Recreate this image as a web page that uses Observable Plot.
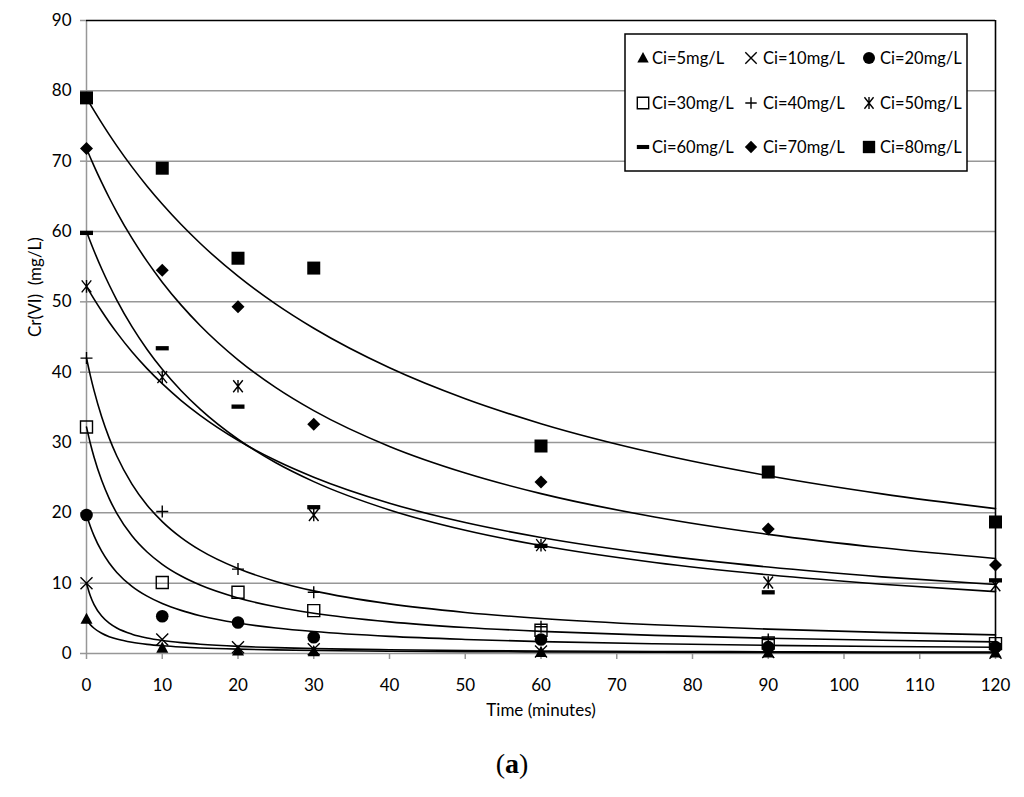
<!DOCTYPE html>
<html><head><meta charset="utf-8">
<script src="https://cdn.jsdelivr.net/npm/d3@7"></script>
<script src="https://cdn.jsdelivr.net/npm/@observablehq/plot@0.6"></script>
<style>
body{margin:0;background:#fff;font-family:Lato,sans-serif;}
#wrap{position:relative;width:1024px;height:797px;overflow:hidden;}
#caption{position:absolute;left:0;top:748px;width:1024px;text-align:center;font-family:"Liberation Serif",serif;font-size:28px;color:#000;}
#legend{position:absolute;left:624px;top:33px;}
</style></head><body>
<div id="wrap"><div id="chart"></div><svg id="legend" width="346" height="142"></svg><div id="caption">(<b>a</b>)</div></div>
<script>
// measured data points
const times = [0, 10, 20, 30, 60, 90, 120];
const c5  = [4.9, 0.8, 0.4, 0.3, 0.2, 0.1, 0.1];
const c10 = [10.0, 2.0, 0.9, 0.6, 0.3, 0.2, 0.1];
const c20 = [19.7, 5.3, 4.4, 2.3, 2.0, 0.9, 0.9];
const c30 = [32.2, 10.1, 8.7, 6.1, 3.3, 1.5, 1.4];
const c40 = [42.0, 20.2, 12.0, 8.7, 3.8, 2.0, 1.4];
const c50 = [52.2, 39.3, 38.0, 19.7, 15.4, 10.1, 9.7];
const c60 = [59.8, 43.4, 35.1, 20.8, 15.3, 8.7, 10.4];
const c70 = [71.8, 54.5, 49.3, 32.6, 24.4, 17.7, 12.6];
const c80 = [79.0, 69.0, 56.2, 54.8, 29.5, 25.8, 18.7];

// fitted curves
const fitTimes = [0, 0.5, 1, 2, 3, 4, 6, 8, 10, 12.5, 15, 20, 25, 30, 40, 50, 60, 75, 90, 105, 120];
const fit5  = [4.80, 4.11, 3.59, 2.87, 2.39, 2.05, 1.59, 1.30, 1.10, 0.92, 0.79, 0.62, 0.51, 0.43, 0.33, 0.27, 0.23, 0.18, 0.15, 0.13, 0.12];
const fit10 = [10.0, 8.20, 6.94, 5.32, 4.31, 3.62, 2.75, 2.21, 1.85, 1.54, 1.32, 1.02, 0.83, 0.70, 0.54, 0.43, 0.36, 0.29, 0.25, 0.21, 0.19];
const fit20 = [19.7, 18.10, 16.73, 14.54, 12.86, 11.53, 9.55, 8.15, 7.10, 6.13, 5.38, 4.33, 3.63, 3.12, 2.43, 2.00, 1.69, 1.38, 1.16, 1.00, 0.88];
const fit30 = [32.2, 29.90, 27.90, 24.62, 22.03, 19.93, 16.74, 14.43, 12.68, 11.01, 9.73, 7.90, 6.64, 5.73, 4.50, 3.70, 3.15, 2.57, 2.17, 1.88, 1.65];
const fit40 = [42.0, 39.55, 37.37, 33.66, 30.62, 28.08, 24.09, 21.09, 18.76, 16.48, 14.69, 12.08, 10.25, 8.90, 7.05, 5.84, 4.98, 4.08, 3.46, 3.00, 2.65];
const fit50 = [52.2, 51.27, 50.38, 48.69, 47.10, 45.62, 42.90, 40.50, 38.36, 35.97, 33.87, 30.32, 27.44, 25.07, 21.37, 18.62, 16.50, 14.09, 12.29, 10.90, 9.80];
const fit60 = [60.0, 58.58, 57.23, 54.70, 52.39, 50.26, 46.47, 43.23, 40.41, 37.36, 34.74, 30.46, 27.12, 24.44, 20.41, 17.52, 15.35, 12.94, 11.19, 9.85, 8.80];
const fit70 = [71.8, 70.53, 69.30, 66.98, 64.80, 62.77, 59.05, 55.75, 52.80, 49.53, 46.64, 41.76, 37.80, 34.53, 29.44, 25.66, 22.73, 19.42, 16.94, 15.03, 13.50];
const fit80 = [79.0, 78.08, 77.18, 75.44, 73.77, 72.18, 69.19, 66.45, 63.91, 60.99, 58.33, 53.65, 49.67, 46.24, 40.62, 36.22, 32.68, 28.50, 25.27, 22.70, 20.60];

const seriesNames = ["Ci=5mg/L","Ci=10mg/L","Ci=20mg/L","Ci=30mg/L","Ci=40mg/L","Ci=50mg/L","Ci=60mg/L","Ci=70mg/L","Ci=80mg/L"];
const xTicks = [0,10,20,30,40,50,60,70,80,90,100,110,120];
const yTicks = [0,10,20,30,40,50,60,70,80,90];
const xLabel = "Time (minutes)";
const yLabel = "Cr(VI)\u00a0 (mg/L)";

// symbols
const sym = fn => ({draw(ctx, size){ fn(ctx, Math.sqrt(size / Math.PI)); }});
const symTri = sym((c,r)=>{c.moveTo(0,-r*1.05);c.lineTo(r,r*0.8);c.lineTo(-r,r*0.8);c.closePath();});
const symTimes = sym((c,r)=>{c.moveTo(-r,-r);c.lineTo(r,r);c.moveTo(-r,r);c.lineTo(r,-r);});
const symCircle = sym((c,r)=>{c.moveTo(r,0);c.arc(0,0,r,0,2*Math.PI);});
const symSquare = sym((c,r)=>{c.moveTo(-r,-r);c.lineTo(r,-r);c.lineTo(r,r);c.lineTo(-r,r);c.closePath();});
const symPlus = sym((c,r)=>{c.moveTo(-r,0);c.lineTo(r,0);c.moveTo(0,-r);c.lineTo(0,r);});
const symAster = sym((c,r)=>{c.moveTo(-r*0.8,-r);c.lineTo(r*0.8,r);c.moveTo(-r*0.8,r);c.lineTo(r*0.8,-r);c.moveTo(0,-r*1.05);c.lineTo(0,r*1.05);});
const symDash = sym((c,r)=>{c.moveTo(-r,-r*0.33);c.lineTo(r,-r*0.33);c.lineTo(r,r*0.33);c.lineTo(-r,r*0.33);c.closePath();});
const symDiamond = sym((c,r)=>{c.moveTo(0,-r);c.lineTo(r,0);c.lineTo(0,r);c.lineTo(-r,0);c.closePath();});

const styles = [
  {symbol: symTri, filled: true, r: 6},
  {symbol: symTimes, filled: false, r: 6},
  {symbol: symCircle, filled: true, r: 6.3},
  {symbol: symSquare, filled: false, r: 6},
  {symbol: symPlus, filled: false, r: 6},
  {symbol: symAster, filled: false, r: 6},
  {symbol: symDash, filled: true, r: 6.5},
  {symbol: symDiamond, filled: true, r: 6.5},
  {symbol: symSquare, filled: true, r: 6.5}
];

const pointSets = [c5,c10,c20,c30,c40,c50,c60,c70,c80];
const fitSets = [fit5,fit10,fit20,fit30,fit40,fit50,fit60,fit70,fit80];

const fitRows = [];
fitSets.forEach((arr, s) => arr.forEach((v, i) => fitRows.push({t: fitTimes[i], c: v, s: seriesNames[s]})));

const GRID = "#979797";
const marks = [
  Plot.gridY(yTicks.filter(d => d > 0 && d < 90), {stroke: GRID, strokeOpacity: 1, strokeWidth: 1.5}),
  Plot.ruleX([0], {stroke: GRID, strokeWidth: 1.5}),
  Plot.ruleY([0], {stroke: GRID, strokeWidth: 1.5}),
  Plot.axisY(yTicks, {tickSize: 6, tickPadding: 9, stroke: GRID, strokeWidth: 1.5, fontSize: 17, label: null}),
  Plot.axisX(xTicks, {tickSize: 6, tickPadding: 19, stroke: GRID, strokeWidth: 1.5, fontSize: 17, label: null}),
  Plot.ruleY([90], {stroke: "#000", strokeWidth: 1.6}),
  Plot.ruleX([120], {stroke: "#000", strokeWidth: 1.6}),
  Plot.text([xLabel], {frameAnchor: "bottom", dy: 62, fontSize: 17}),
  Plot.text([yLabel], {frameAnchor: "left", dx: -51, rotate: -90, fontSize: 17}),
  Plot.line(fitRows, {x: "t", y: "c", z: "s", curve: "monotone-x", stroke: "#000", strokeWidth: 1.6})
];
pointSets.forEach((arr, s) => {
  const st = styles[s];
  const rows = arr.map((v, i) => ({t: times[i], c: v}));
  marks.push(Plot.dot(rows, {x: "t", y: "c", symbol: () => st.symbol, r: st.r,
    fill: st.filled ? "#000" : "none", stroke: st.filled ? "none" : "#000",
    strokeWidth: st.filled ? 0 : 1.4}));
});

const chart = Plot.plot({
  width: 1024, height: 735,
  marginLeft: 86, marginRight: 29, marginTop: 20, marginBottom: 82,
  style: {fontFamily: "Lato, sans-serif", fontSize: "17px", color: "#000", background: "#fff"},
  x: {domain: [0, 120], label: null},
  y: {domain: [0, 90], label: null},
  marks
});
document.getElementById("chart").appendChild(chart);

// legend
const leg = d3.select("#legend");
leg.append("rect").attr("x", 1).attr("y", 1).attr("width", 342).attr("height", 137)
  .attr("fill", "#fff").attr("stroke", "#000").attr("stroke-width", 1.5);
const rowY = [25, 70, 114];
const colSym = [19, 127, 245];
const colText = [27, 138, 255];
seriesNames.forEach((name, i) => {
  const row = Math.floor(i / 3), col = i % 3, st = styles[i];
  const r = st.r * 0.95;
  leg.append("path")
    .attr("transform", `translate(${colSym[col]},${rowY[row]})`)
    .attr("d", d3.symbol().type(st.symbol).size(r * r * Math.PI)())
    .attr("fill", st.filled ? "#000" : "none")
    .attr("stroke", st.filled ? "none" : "#000")
    .attr("stroke-width", 1.4);
  leg.append("text").attr("x", colText[col] + 1).attr("y", rowY[row]).attr("dy", "0.35em")
    .attr("font-family", "Lato, sans-serif").attr("font-size", 16.5).text(name);
});
</script>
</body></html>
